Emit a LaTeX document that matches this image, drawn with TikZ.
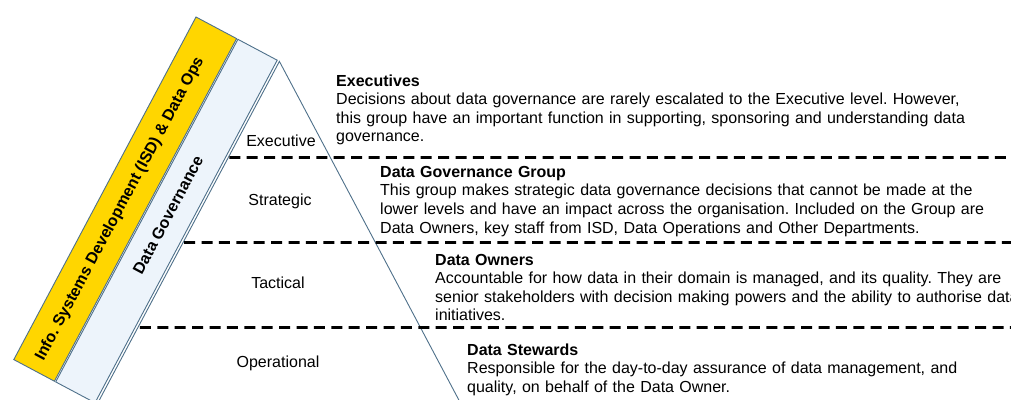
\documentclass[tikz,border=0pt]{standalone}
\usepackage{fontspec}
\setmainfont{Liberation Sans}
\frenchspacing
\definecolor{bandyellow}{RGB}{255,214,0}
\definecolor{bandblue}{RGB}{237,244,251}
\definecolor{edgeblue}{RGB}{78,112,138}
\begin{document}
\begin{tikzpicture}[x=1pt,y=-1pt,
  bandbox/.style={draw=edgeblue, line width=0.9pt, line join=miter},
  triline/.style={draw=edgeblue, line width=0.9pt},
  levelline/.style={draw=black, line width=2.6pt, dash pattern=on 11pt off 6.4pt},
  lvl/.style={font=\fontsize{16}{18.6}\selectfont, inner sep=0pt, anchor=base},
  desc/.style={font=\fontsize{16}{18.6}\selectfont, inner sep=0pt, anchor=base west, text width=700pt, align=left},
  bandtext/.style={font=\bfseries\fontsize{16}{18.6}\selectfont, inner sep=0pt, rotate=62}
]
\useasboundingbox (0,0) rectangle (1011,399);
% band corners
\coordinate (A) at (196,17);
\coordinate (B) at (236.6,38.6);
\coordinate (Bp) at (237.9,39.3);
\coordinate (C) at (277.2,60.2);
\coordinate (T) at (279.4,61.4);
\coordinate (D) at (13.8,359.6);
\coordinate (E) at (54.4,381.2);
\coordinate (Ep) at (55.7,381.9);
\coordinate (F) at (95.0,402.8);
\coordinate (T2) at (91.6,414.6);
\coordinate (R) at (466.6,414.6);
% bands
\path[bandbox, fill=bandyellow] (A) -- (B) -- (E) -- (D) -- cycle;
\path[bandbox, fill=bandblue] (Bp) -- (C) -- (F) -- (Ep) -- cycle;
% triangle
\path[triline] (T2) -- (T) -- (R);
% level lines
\coordinate (h1a) at (0,157.5);  \coordinate (h1b) at (1011,157.5);
\coordinate (h2a) at (0,242.5);  \coordinate (h2b) at (1011,242.5);
\coordinate (h3a) at (0,327.5);  \coordinate (h3b) at (1011,327.5);
\coordinate (s1) at (intersection of T--T2 and h1a--h1b);
\coordinate (s2) at (intersection of T--T2 and h2a--h2b);
\coordinate (s3) at (intersection of T--T2 and h3a--h3b);
\path[levelline] ([xshift=1pt]s1) -- (h1b);
\path[levelline] ([xshift=1pt]s2) -- (h2b);
\path[levelline] ([xshift=2pt]s3) -- (h3b);
% band texts
\node[bandtext] (isd) at (120,209) {Info. Systems Development (ISD) \& Data Ops};
\node[bandtext] (dg) at (168,215) {Data Governance};
% level labels
\node[lvl] (lexec) at (281,146) {Executive};
\node[lvl] (lstrat) at (280,205) {Strategic};
\node[lvl] (ltact) at (278,288) {Tactical};
\node[lvl] (loper) at (278,367) {Operational};
% descriptions
\node[desc] (dexec) at (336,86) {\textbf{Executives}\\Decisions about data governance are rarely escalated to the Executive level. However,\\this group have an important function in supporting, sponsoring and understanding data\\governance.};
\node[desc] (dgroup) at (380,177.3) {\textbf{Data Governance Group}\\This group makes strategic data governance decisions that cannot be made at the\\lower levels and have an impact across the organisation. Included on the Group are\\Data Owners, key staff from ISD, Data Operations and Other Departments.};
\node[desc] (downers) at (435,265) {\textbf{Data Owners}\\Accountable for how data in their domain is managed, and its quality. They are\\senior stakeholders with decision making powers and the ability to authorise data\\initiatives.};
\node[desc] (dstew) at (467,355) {\textbf{Data Stewards}\\Responsible for the day-to-day assurance of data management, and\\quality, on behalf of the Data Owner.};
\end{tikzpicture}
\end{document}
